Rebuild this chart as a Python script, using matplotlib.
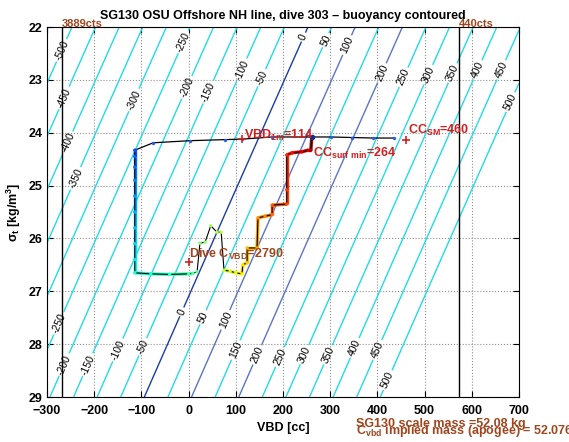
import numpy as np
import matplotlib
matplotlib.use('Agg')
from matplotlib import pyplot as plt
from matplotlib.collections import LineCollection

plt.rcParams['font.family'] = ['Liberation Sans', 'DejaVu Sans']
plt.rcParams['mathtext.fontset'] = 'custom'
plt.rcParams['mathtext.rm'] = 'Liberation Sans:bold'
plt.rcParams['mathtext.it'] = 'Liberation Sans:bold'

# ---------------- numbers ----------------
mass_g = 52080.0          # SG130 scale mass
hull_cc = 50706.0         # volume giving neutral buoyancy at vbd=-94, sigma=29
levels = np.arange(-500, 501, 50)

cts_vbd = [-268, 573]
cts_text = ['3889cts', '440cts']

# surface part (black line, blue dots)
surf_vbd = [435, 391, 346, 302, 261, 177, 114, 77, 3, -75, -114]
surf_sig = [24.10, 24.10, 24.09, 24.08, 24.08, 24.08, 24.12, 24.13, 24.15, 24.19, 24.33]

# descent + bottom + apogee + climb
dive_vbd = [-114, -114, -114, -114, -114, -114, -114, -114, -114, -114,
            -80, -40, 0, 9,
            18, 24, 35, 47, 60, 69,
            75, 88, 100, 113, 115, 124, 124, 145, 147, 162, 177, 177,
            208, 208, 208, 219, 240, 253, 259, 261]
dive_sig = [24.33, 24.45, 24.65, 24.90, 25.20, 25.50, 25.80, 26.10, 26.40, 26.65,
            26.67, 26.68, 26.67, 26.66,
            26.63, 26.09, 26.07, 25.76, 25.88, 25.88,
            26.60, 26.62, 26.65, 26.67, 26.50, 26.46, 26.18, 26.18, 25.61, 25.58, 25.55, 25.37,
            25.35, 25.08, 24.42, 24.38, 24.36, 24.33, 24.33, 24.08]
# points 14..19 (apogee wiggle) are drawn black only
wiggle = slice(14, 20)

# label places (sigma) for contour labels
lab_top = {-500: 22.44, -450: 23.34, -400: 24.19, -350: 24.86, -300: 23.38, -250: 22.28,
           -200: 23.14, -150: 23.23, -100: 22.81, -50: 22.96, 0: 22.19, 50: 22.25,
           100: 22.34, 200: 22.87, 250: 22.95, 300: 22.9, 350: 22.87, 400: 22.81,
           450: 22.81, 500: 23.42}
lab_bot = {-250: 27.6, -200: 28.39, -150: 28.39, -100: 28.11, -50: 28.05, 0: 27.39,
           50: 27.49, 100: 27.54, 150: 28.11, 200: 28.2, 250: 28.24, 300: 28.2,
           350: 28.2, 400: 28.07, 450: 28.11, 500: 28.68}

brown = '#a0461e'
red = '#d02020'


def buoy(vbd, sig):
    return hull_cc + vbd - mass_g * 1000.0 / (1000.0 + sig)


def vbd_on_level(lev, sig):
    return lev - hull_cc + mass_g * 1000.0 / (1000.0 + sig)


fig = plt.figure(figsize=(5.69, 4.42), dpi=100)
ax = fig.add_axes([0.0826, 0.1018, 0.8295, 0.837])
ax.set_xlim(-300, 700)
ax.set_ylim(29, 22)

# ---------------- buoyancy contours ----------------
vg, sg = np.meshgrid(np.linspace(-300, 700, 301), np.linspace(22, 29, 141))
lev_colors = []
for lv in levels:
    if lv == 0:
        lev_colors.append('#1a3da6')
    elif lv in (100, 200):
        lev_colors.append('#5c74c9')
    else:
        lev_colors.append('#22dbe6')
cs = ax.contour(vg, sg, buoy(vg, sg), levels=levels, colors=lev_colors, linewidths=1.0)

pos = []
for lv, s in list(lab_top.items()) + list(lab_bot.items()):
    pos.append((vbd_on_level(lv, s), s))
labs = ax.clabel(cs, manual=pos, inline=True, fmt='%d', fontsize=7.5, colors='k', inline_spacing=2)

# turn labels so they run along the lines on screen
for tx in labs:
    lv = float(tx.get_text().replace('\u2212', '-'))
    x0, y0 = tx.get_position()
    p1 = ax.transData.transform((vbd_on_level(lv, y0 + 0.1), y0 + 0.1))
    p2 = ax.transData.transform((vbd_on_level(lv, y0 - 0.1), y0 - 0.1))
    ang = np.degrees(np.arctan2(p2[1] - p1[1], p2[0] - p1[0]))
    tx.set_transform_rotates_text(False)
    tx.set_rotation(ang)

# ---------------- count limits ----------------
for v, t in zip(cts_vbd, cts_text):
    ax.plot([v, v], [22, 29], color='k', lw=1.0)
    ax.text(v, 22.03, t, color=brown, fontsize=8, fontweight='bold', ha='left', va='bottom')

# ---------------- dive trace ----------------
dv = np.array(dive_vbd, float)
ds = np.array(dive_sig, float)
cv = dv.copy()
csig = ds.copy()
cv[wiggle] = np.nan
csig[wiggle] = np.nan

# colour along the dive by sample number
cmap = plt.get_cmap('jet')
ccol = 0.2 + 0.77 * np.arange(len(dv)) / (len(dv) - 1)

pts = np.column_stack([cv, csig])
segs = np.stack([pts[:-1], pts[1:]], axis=1)
lc = LineCollection(segs, colors=cmap((ccol[:-1] + ccol[1:]) / 2), linewidths=2.4, zorder=3)
ax.add_collection(lc)

ax.plot(surf_vbd, surf_sig, color='k', lw=0.9, zorder=4)
ax.plot(dv, ds, color='k', lw=0.8, zorder=4)
ax.scatter(surf_vbd, surf_sig, s=6, color='#2a5ee8', zorder=5, linewidths=0)
ax.scatter(dv, ds, s=6, c=cmap(ccol), zorder=5, linewidths=0)
ax.scatter([surf_vbd[4]], [surf_sig[4]], s=16, color='#1a2a8a', zorder=6, linewidths=0)

# ---------------- markers and notes ----------------
ax.plot([114], [24.12], '+', color=red, ms=6, mew=1.2, zorder=7)
ax.text(117, 24.12, r'VBD$_{\rm 1m}$=114', color=red, fontsize=9, fontweight='bold',
        ha='left', va='baseline', zorder=7)
ax.plot([460], [24.14], '+', color=red, ms=6, mew=1.2, zorder=7)
ax.text(464, 24.02, r'CC$_{\rm SM}$=460', color=red, fontsize=9, fontweight='bold',
        ha='left', va='baseline', zorder=7)
ax.text(263, 24.46, r'CC$_{\rm surf\ min}$=264', color=red, fontsize=9, fontweight='bold',
        ha='left', va='baseline', zorder=7)
ax.plot([0], [26.45], '+', color=red, ms=6, mew=1.2, zorder=7)
ax.text(1, 26.37, r'Dive C$_{\rm VBD}$=2790', color=brown, fontsize=9, fontweight='bold',
        ha='left', va='baseline', zorder=7)

fig.text(356 / 569, 1 - 424 / 442, 'SG130 scale mass =52.08 kg', color=brown,
         fontsize=9, fontweight='bold', ha='left', va='center')
fig.text(356 / 569, 1 - 431 / 442, r'C$_{\rm vbd}$ implied mass (apogee) = 52.076', color=brown,
         fontsize=9, fontweight='bold', ha='left', va='center')

# ---------------- axes ----------------
ax.set_xticks(np.arange(-300, 701, 100))
ax.set_yticks(np.arange(22, 30, 1))
ax.tick_params(direction='in', top=True, right=True, labelsize=9, length=4)
ax.tick_params(axis='x', pad=6)
for lb in ax.get_xticklabels() + ax.get_yticklabels():
    lb.set_fontweight('bold')
ax.grid(True, linestyle=':', color='#909090', lw=0.8)
ax.set_xlabel('VBD [cc]', fontsize=9, fontweight='bold', labelpad=3)
ax.set_ylabel(r'$\sigma_t$ [kg/m$^3$]', fontsize=9, fontweight='bold', labelpad=4)
ax.set_title('SG130 OSU Offshore NH line, dive 303 \u2013 buoyancy contoured',
             fontsize=9, fontweight='bold', pad=6)

fig.savefig('out.png', dpi=100)
